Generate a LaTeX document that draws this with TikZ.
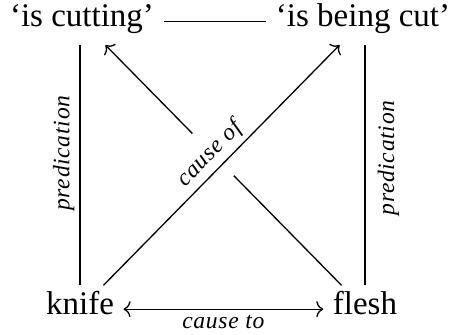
\documentclass[tikz,border=0pt]{standalone}
\usepackage{fontspec}
\setmainfont{Liberation Serif}
\newfontfamily\relfont[LetterSpace=3]{Liberation Serif}
\usepackage{tikz}
\usetikzlibrary{arrows.meta}

\begin{document}
\begin{tikzpicture}[x=0.5pt, y=-0.5pt, line width=0.65pt,
    >={To[length=3.5pt, width=8pt]},
    term/.style={font=\fontsize{16.5}{20}\selectfont, anchor=base,
      inner xsep=4.5pt, inner ysep=7.5pt, text height=0.7em, text depth=0.12em},
    rel/.style={font=\fontsize{11.8}{14}\selectfont\relfont\itshape}]
  \useasboundingbox (0,0) rectangle (452,335);
  \node[term] (cut) at (82,27) {‘is cutting’};
  \node[term] (being) at (363,27) {‘is being cut’};
  \node[term] (knife) at (80,315) {knife};
  \node[term] (flesh) at (365,315) {flesh};

  \draw (cut) -- (being);
  \draw (knife.north) -- node[rel, sloped, above, pos=0.55, inner sep=2.5pt] {predication} (knife.north |- cut.south);
  \draw (flesh.north) -- node[rel, sloped, below, pos=0.53, inner sep=6pt] {predication} (flesh.north |- being.south);
  \draw[<->] (knife) -- node[rel, below, inner sep=2.5pt] {cause to} (flesh);

  % the crossing: gap cut into flesh -> cut
  \draw[->] (flesh) -- (cut);
  \draw[white, line width=16pt, shorten <=60pt, shorten >=60pt] (knife) -- (being);
  \path (knife) -- node[rel, sloped, above, fill=white, inner sep=2.3pt, text height=14pt] {cause of} (being);
  \draw[->] (knife) -- (being);
\end{tikzpicture}
\end{document}
